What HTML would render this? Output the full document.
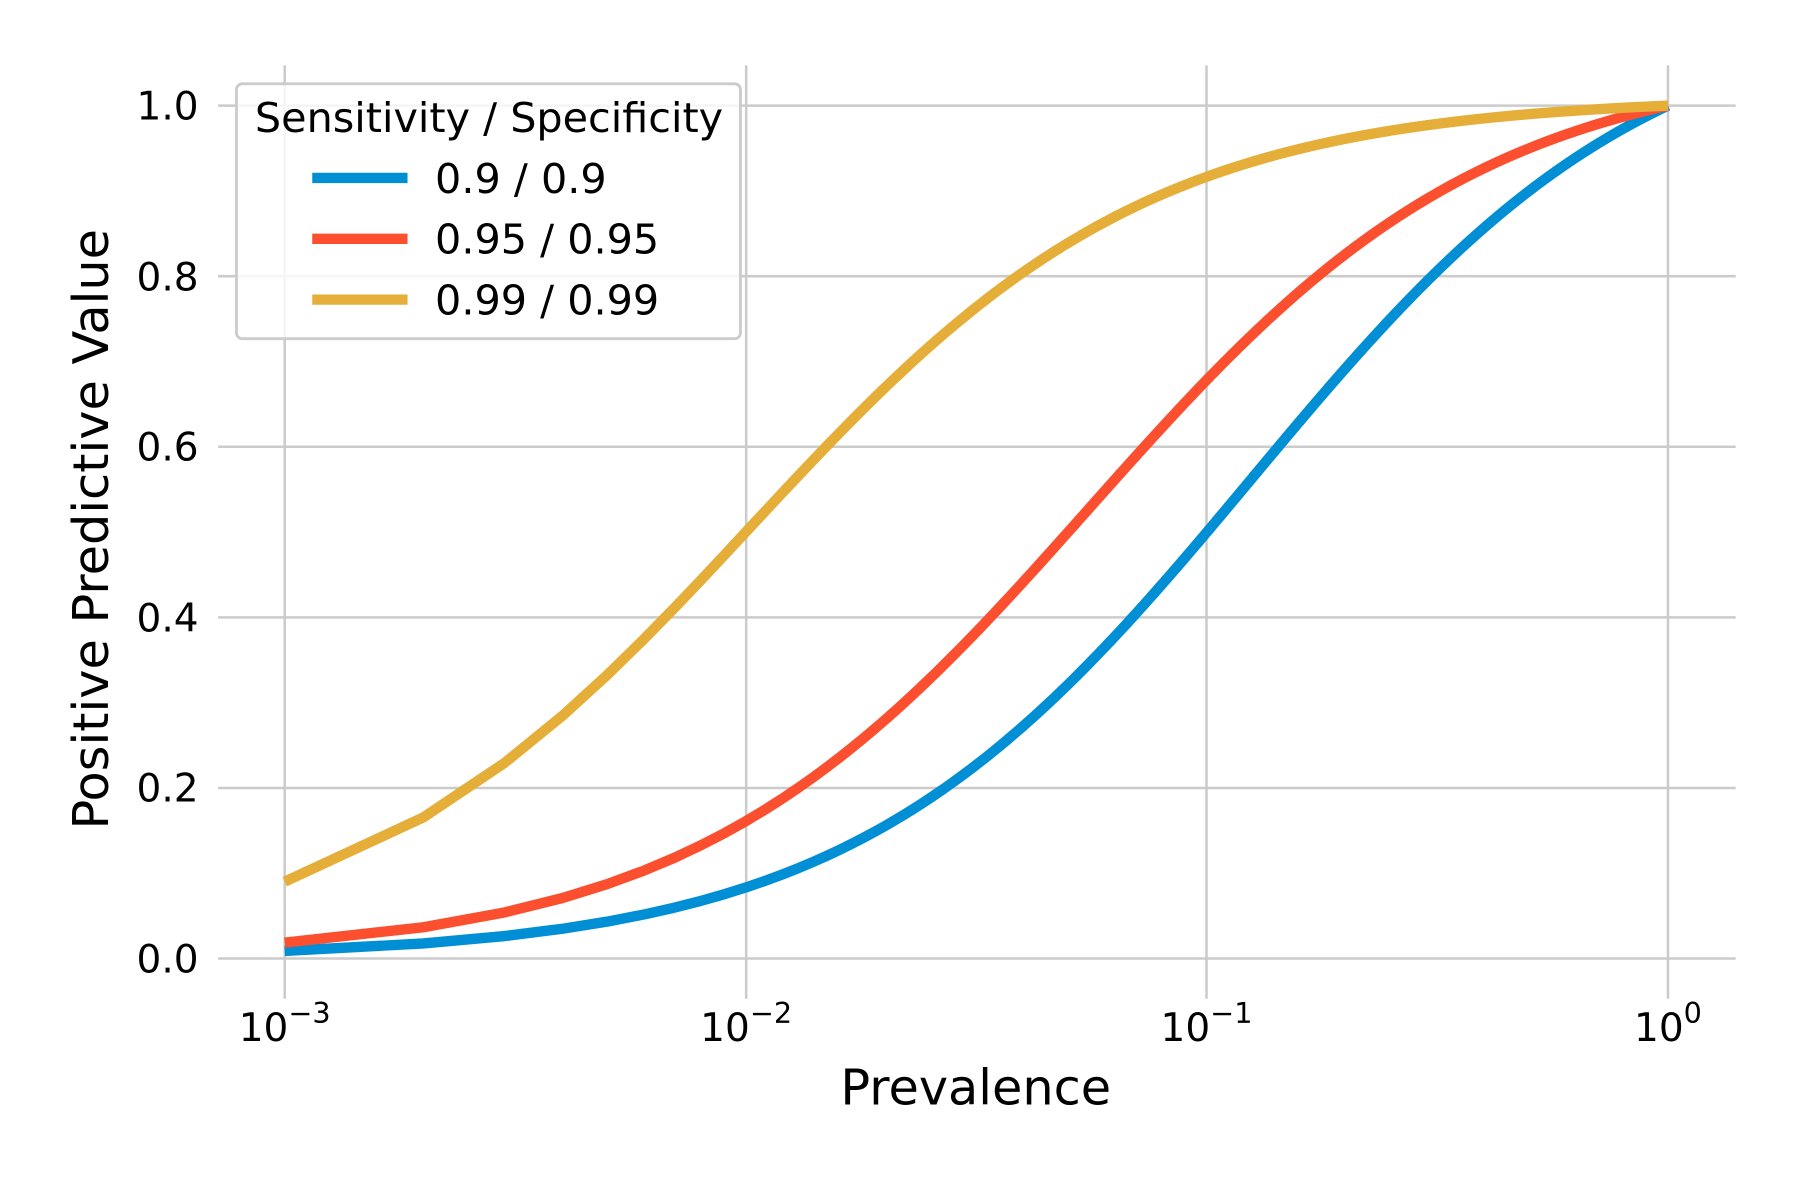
<!DOCTYPE html>
<html><head><meta charset="utf-8"><style>
html,body{margin:0;padding:0;background:#fff;}
svg{display:block;}
text{font-family:"DejaVu Sans","Liberation Sans",sans-serif;fill:#000;}
</style></head><body>
<svg id="s" width="1800" height="1200" viewBox="0 0 1568 1045.33" preserveAspectRatio="none" xmlns="http://www.w3.org/2000/svg">
<rect width="1568" height="1046" fill="#fff"/>
<g stroke="#cbcbcb" stroke-width="2.2">
<line x1="248" y1="57" x2="248" y2="870"/>
<line x1="650" y1="57" x2="650" y2="870"/>
<line x1="1051" y1="57" x2="1051" y2="870"/>
<line x1="1453" y1="57" x2="1453" y2="870"/>
<line x1="190" y1="92" x2="1512" y2="92"/>
<line x1="190" y1="240.6" x2="1512" y2="240.6"/>
<line x1="190" y1="389.2" x2="1512" y2="389.2"/>
<line x1="190" y1="537.8" x2="1512" y2="537.8"/>
<line x1="190" y1="686.4" x2="1512" y2="686.4"/>
<line x1="190" y1="835" x2="1512" y2="835"/>
</g>
<g font-size="34" text-anchor="end">
<text x="173" y="104">1.0</text>
<text x="173" y="253">0.8</text>
<text x="173" y="401">0.6</text>
<text x="173" y="550">0.4</text>
<text x="173" y="698">0.2</text>
<text x="173" y="847">0.0</text>
</g>
<g font-size="34" text-anchor="middle">
<text x="248" y="907">10<tspan dy="-16" font-size="25">−3</tspan></text>
<text x="650" y="907">10<tspan dy="-16" font-size="25">−2</tspan></text>
<text x="1051" y="907">10<tspan dy="-16" font-size="25">−1</tspan></text>
<text x="1453" y="907">10<tspan dy="-16" font-size="25">0</tspan></text>
</g>
<text x="850" y="962" font-size="43" text-anchor="middle">Prevalence</text>
<text transform="translate(94,461) rotate(-90)" font-size="43" text-anchor="middle">Positive Predictive Value</text>
<g id="curves" fill="none" stroke-width="9" stroke-linejoin="round"></g>
<rect x="206" y="73" width="439" height="222" rx="5" fill="#fff" fill-opacity="0.8" stroke="#cccccc" stroke-width="2.5"/>
<text x="426" y="115" font-size="36" text-anchor="middle">Sensitivity / Specificity</text>
<line x1="272" y1="155" x2="355" y2="155" stroke="#008fd5" stroke-width="9"/>
<line x1="272" y1="208" x2="355" y2="208" stroke="#fc4f30" stroke-width="9"/>
<line x1="272" y1="261" x2="355" y2="261" stroke="#e5ae38" stroke-width="9"/>
<g font-size="36">
<text x="379" y="168">0.9 / 0.9</text>
<text x="379" y="221">0.95 / 0.95</text>
<text x="379" y="274">0.99 / 0.99</text>
</g>
</svg>
<script>
(function(){
var g=document.getElementById('curves');
var ser=[[0.9,'#008fd5'],[0.95,'#fc4f30'],[0.99,'#e5ae38']];
ser.forEach(function(a){
 var s=a[0],d='';
 for(var k=1;k<=1000;k++){
  var p=k/1000;
  var v=s*p/(s*p+(1-s)*(1-p));
  var x=248+(Math.log10(p)+3)*401.67;
  var y=835-v*743;
  d+=(k==1?'M':'L')+x.toFixed(2)+' '+y.toFixed(2);
 }
 var e=document.createElementNS('http://www.w3.org/2000/svg','path');
 e.setAttribute('d',d);e.setAttribute('stroke',a[1]);
 g.appendChild(e);
});
})();
</script>
</body></html>
